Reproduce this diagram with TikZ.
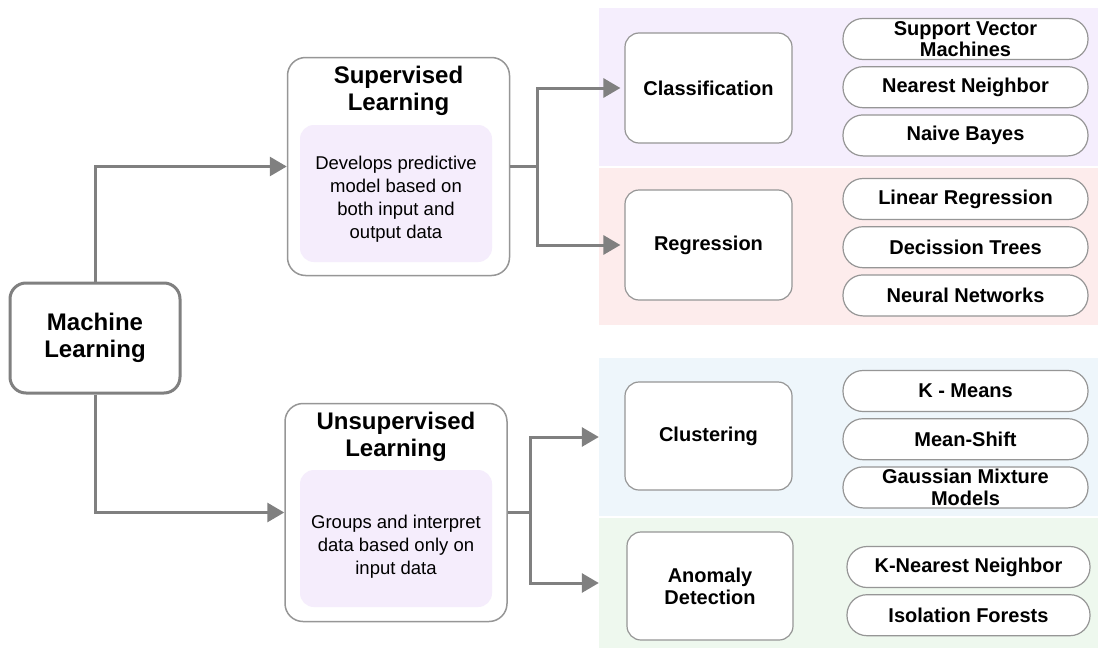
\documentclass[tikz,border=0pt]{standalone}
\usepackage{fontspec}
\setmainfont{Liberation Sans}
\usepackage{tikz}
\usepackage{xcolor}
\usetikzlibrary{positioning,arrows.meta,calc}
\definecolor{linegray}{RGB}{128,128,128}
\definecolor{bordergray}{RGB}{150,150,150}
\definecolor{bandpurple}{RGB}{245,238,253}
\definecolor{bandpink}{RGB}{253,236,236}
\definecolor{bandblue}{RGB}{238,246,251}
\definecolor{bandgreen}{RGB}{238,248,238}
\definecolor{innerpurple}{RGB}{245,237,252}

\begin{document}
\begin{tikzpicture}[
    x=1pt, y=-1pt,
    node distance=6pt,
    root/.style={rectangle, draw=linegray, line width=3pt, fill=white, rounded corners=16pt, minimum width=170pt, minimum height=110pt, align=center, font=\fontsize{24}{27}\selectfont\bfseries},
    group/.style={rectangle, draw=bordergray, line width=1.5pt, fill=white, rounded corners=18pt, minimum width=222pt, minimum height=218pt},
    grouptitle/.style={inner sep=0pt, align=center, font=\fontsize{24}{27}\selectfont\bfseries},
    descbox/.style={rectangle, fill=innerpurple, rounded corners=14pt, minimum width=192pt, minimum height=137pt},
    desctext/.style={inner sep=0pt, align=center, font=\fontsize{18.5}{23}\selectfont},
    band/.style={rectangle, inner sep=0pt, minimum width=499pt},
    task/.style={rectangle, draw=bordergray, line width=1.2pt, fill=white, rounded corners=14pt, minimum width=167pt, minimum height=110pt, align=center, font=\fontsize{20}{22}\selectfont\bfseries},
    algo/.style={rectangle, draw=bordergray, line width=1.2pt, fill=white, rounded corners=20pt, minimum width=245pt, minimum height=41pt, inner sep=0pt, align=center, font=\fontsize{20}{21.5}\selectfont\bfseries},
    arrow/.style={-{Triangle[length=17pt,width=19pt]}, line width=3pt, draw=linegray}
]
\useasboundingbox (0,0) rectangle (1098,648);

% background bands
\node[band, fill=bandpurple, minimum height=158pt] (clsband) at (848.5,87) {};
\node[band, fill=bandpink, minimum height=157pt] (regband) at (848.5,246.5) {};
\node[band, fill=bandblue, minimum height=158pt] (cluband) at (848.5,437) {};
\node[band, fill=bandgreen, minimum height=130pt] (anoband) at (848.5,583) {};

\node[root] (ml) at (95,338) {Machine\\Learning};

% supervised branch
\node[group] (sup) at (398.5,166.5) {};
\node[grouptitle, below=9pt of sup.north] (suptitle) {Supervised\\Learning};
\node[descbox] (supdesc) at (396,193.5) {};
\node[desctext] (supdesctext) at ($(supdesc.center)+(0,5.5)$) {Develops predictive\\model based on\\both input and\\output data};

% unsupervised branch
\node[group] (unsup) at (396,512.5) {};
\node[grouptitle, below=9pt of unsup.north] (unsuptitle) {Unsupervised\\Learning};
\node[descbox] (unsupdesc) at (396,538.5) {};
\node[desctext] (unsupdesctext) at ($(unsupdesc.center)+(0,8)$) {Groups and interpret\\data based only on\\input data};

% tasks
\node[task] (cls) at (708.5,88) {Classification};
\node[task] (reg) at (708.5,245) {Regression};
\node[task, minimum height=108pt] (clu) at (708.5,436) {Clustering};
\node[task, minimum height=108pt, minimum width=166pt] (ano) at (710,586) {Anomaly\\Detection};

% algorithms
\node[algo] (svm) at (965.5,39) {Support Vector\\Machines};
\node[algo, below=of svm] (nn) {Nearest Neighbor};
\node[algo, below=of nn] (nb) {Naive Bayes};

\node[algo] (linreg) at (965.5,199) {Linear Regression};
\node[algo, below=of linreg] (dtree) {Decission Trees};
\node[algo, below=of dtree] (neural) {Neural Networks};

\node[algo] (kmeans) at (965.5,391) {K - Means};
\node[algo, below=of kmeans] (meanshift) {Mean-Shift};
\node[algo, below=of meanshift] (gmm) {Gaussian Mixture\\Models};

\node[algo, minimum width=243pt] (knn) at (968.5,567) {K-Nearest Neighbor};
\node[algo, minimum width=243pt, below=of knn] (iforest) {Isolation Forests};

% connectors
\draw[arrow] (ml.north) |- (sup.west);
\draw[arrow] (ml.south) |- (unsup.west);

\coordinate (supsplit) at ($(sup.east)+(27,0)$);
\draw[arrow, shorten >=4pt] (sup.east) -- (supsplit) |- (cls.west);
\draw[arrow, shorten >=4pt] (sup.east) -- (supsplit) |- (reg.west);

\coordinate (unsupsplit) at ($(unsup.east)+(23,0)$);
\draw[arrow] (unsup.east) -- (unsupsplit) |- (cluband.west);
\draw[arrow] (unsup.east) -- (unsupsplit) |- (anoband.west);

\end{tikzpicture}
\end{document}
